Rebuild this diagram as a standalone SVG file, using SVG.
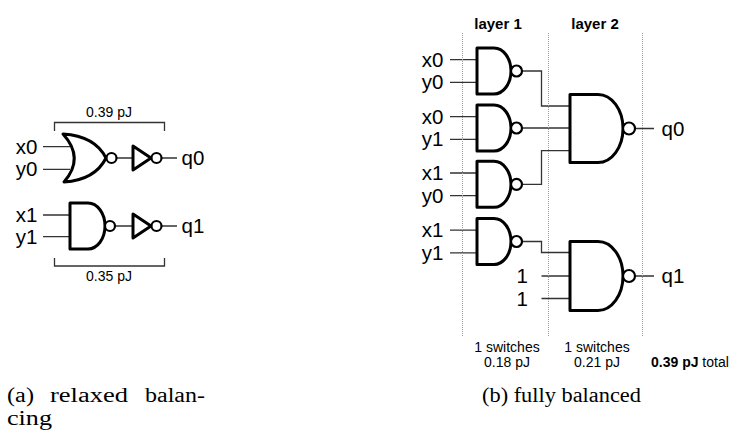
<svg xmlns="http://www.w3.org/2000/svg" width="737" height="435" viewBox="0 0 737 435">
<style>
.g{fill:#fff;stroke:#000;stroke-width:3;stroke-linejoin:round}
.b{fill:#fff;stroke:#000;stroke-width:2.2}
.w{fill:none;stroke:#333;stroke-width:1.3}
.d{fill:none;stroke:#999;stroke-width:1;stroke-dasharray:1 1}
.t{font-family:"Liberation Sans",Arial,sans-serif;font-size:20.5px;fill:#000}
.s{font-family:"Liberation Sans",Arial,sans-serif;font-size:14px;fill:#000}
.l{font-family:"Liberation Sans",Arial,sans-serif;font-size:15px;font-weight:bold;fill:#000}
.c{font-family:"Liberation Serif","Times New Roman",serif;font-size:20px;fill:#000}
</style>
<rect width="737" height="435" fill="#fff"/>
<g id="connectors">
<path class="w" d="M43,146.7H70M43,169.3H70M117,158H133M162,158H177"/>
<path class="w" d="M43,215H70M43,236.7H70M115,226H133M162,226H177"/>
<path class="w" d="M54.5,131V122.5H164.5V131M54.5,258V266H164.5V258"/>
<path class="w" d="M450,59.7H477M450,82.3H477M450,116.7H477M450,139.3H477M450,173H477M450,195.7H477M450,230.2H477M450,252.8H477"/>
<path class="w" d="M522,71H541.5V106H570M522,128H570M522,184.3H541.5V150.7H570M522,241.5H541.5V252.5H570M541.5,276H570M541.5,298.5H570"/>
<path class="w" d="M635,128.5H654M635,276H654"/>
</g>
<g id="grid">
<path class="d" d="M462.5,33V337M548.5,33V337M642.5,33V337"/>
</g>
<g id="nor0">
<path class="g" d="M63,134Q95,136 106,158Q95,180 64,182Q85,158 63,134Z"/>
<circle class="b" cx="111.5" cy="158" r="5"/>
</g>
<g id="inv0">
<polygon class="g" points="133,146 133,170 151,158"/>
<circle class="b" cx="156.5" cy="158" r="5"/>
</g>
<g id="nand1">
<path class="g" d="M70,203H88A17,23 0 0 1 88,249H70Z"/>
<circle class="b" cx="110" cy="226" r="5"/>
</g>
<g id="inv1">
<polygon class="g" points="133,214 133,238 151,226"/>
<circle class="b" cx="156.5" cy="226" r="5"/>
</g>
<g id="l1a"><path class="g" d="M477,48H494A17,23 0 0 1 494,94H477Z"/><circle class="b" cx="516.5" cy="71" r="5.5"/></g>
<g id="l1b"><path class="g" d="M477,105H494A17,23 0 0 1 494,151H477Z"/><circle class="b" cx="516.5" cy="128" r="5.5"/></g>
<g id="l1c"><path class="g" d="M477,161.3H494A17,23 0 0 1 494,207.3H477Z"/><circle class="b" cx="516.5" cy="184.3" r="5.5"/></g>
<g id="l1d"><path class="g" d="M477,218.5H494A17,23 0 0 1 494,264.5H477Z"/><circle class="b" cx="516.5" cy="241.5" r="5.5"/></g>
<g id="l2a"><path class="g" d="M570,94.5H598A25,34 0 0 1 598,162.5H570Z"/><circle class="b" cx="629" cy="128.5" r="6"/></g>
<g id="l2b"><path class="g" d="M570,241.5H598A25,34.5 0 0 1 598,310.5H570Z"/><circle class="b" cx="629" cy="276" r="6"/></g>
<g id="labels">
<text class="t" x="37.5" y="153.5" text-anchor="end">x0</text>
<text class="t" x="37.5" y="176.2" text-anchor="end">y0</text>
<text class="t" x="37.5" y="222" text-anchor="end">x1</text>
<text class="t" x="37.5" y="243.6" text-anchor="end">y1</text>
<text class="t" x="181.5" y="165">q0</text>
<text class="t" x="181.5" y="233">q1</text>
<text class="s" x="109" y="117" text-anchor="middle">0.39 pJ</text>
<text class="s" x="109" y="280.5" text-anchor="middle">0.35 pJ</text>
<text class="l" x="498" y="28.5" text-anchor="middle">layer 1</text>
<text class="l" x="595" y="28.5" text-anchor="middle">layer 2</text>
<text class="t" x="443.5" y="66.7" text-anchor="end">x0</text>
<text class="t" x="443.5" y="89.3" text-anchor="end">y0</text>
<text class="t" x="443.5" y="123.7" text-anchor="end">x0</text>
<text class="t" x="443.5" y="146.3" text-anchor="end">y1</text>
<text class="t" x="443.5" y="180" text-anchor="end">x1</text>
<text class="t" x="443.5" y="202.7" text-anchor="end">y0</text>
<text class="t" x="443.5" y="237.2" text-anchor="end">x1</text>
<text class="t" x="443.5" y="259.8" text-anchor="end">y1</text>
<text class="t" x="528" y="283" text-anchor="end">1</text>
<text class="t" x="528" y="305.5" text-anchor="end">1</text>
<text class="t" x="661.5" y="135.5">q0</text>
<text class="t" x="661.5" y="283">q1</text>
<text class="s" x="507" y="352" text-anchor="middle">1 switches</text>
<text class="s" x="507" y="367" text-anchor="middle">0.18 pJ</text>
<text class="s" x="597" y="352" text-anchor="middle">1 switches</text>
<text class="s" x="597" y="367" text-anchor="middle">0.21 pJ</text>
<text class="s" x="651" y="367" font-size="14.5px"><tspan font-weight="bold">0.39 pJ</tspan> total</text>
<text class="c" x="7" y="401.7" textLength="27" lengthAdjust="spacingAndGlyphs">(a)</text>
<text class="c" x="50" y="401.7" textLength="78" lengthAdjust="spacingAndGlyphs">relaxed</text>
<text class="c" x="145" y="401.7" textLength="60" lengthAdjust="spacingAndGlyphs">balan-</text>
<text class="c" x="7" y="425" textLength="45" lengthAdjust="spacingAndGlyphs">cing</text>
<text class="c" x="482" y="401.7" textLength="159" lengthAdjust="spacingAndGlyphs">(b) fully balanced</text>
</g>
</svg>
